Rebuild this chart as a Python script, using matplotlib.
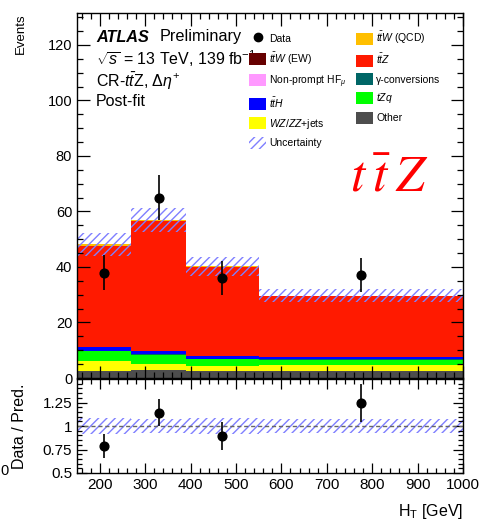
import numpy as np
import matplotlib
matplotlib.use("Agg")
import matplotlib.pyplot as plt
from matplotlib.patches import Patch
from matplotlib.lines import Line2D
from matplotlib.ticker import MultipleLocator, FixedLocator, FixedFormatter

plt.rcParams['font.family'] = ['Liberation Sans', 'DejaVu Sans']
plt.rcParams['mathtext.fontset'] = 'custom'
plt.rcParams['mathtext.rm'] = 'Liberation Sans'
plt.rcParams['mathtext.it'] = 'Liberation Sans:italic'
plt.rcParams['mathtext.bf'] = 'Liberation Sans:bold'
plt.rcParams['hatch.linewidth'] = 1.0

# ---------------- data ----------------
edges = [150, 270, 390, 550, 1000]
data_x = [210, 330, 470, 775]
data_y = [38, 65, 36, 37]
data_err = [6.2, 8.1, 6.0, 6.1]

# stack components (bottom -> top)
other = [2.6, 3.0, 2.5, 2.7]
wzzz = [3.4, 2.2, 1.9, 2.0]
tzq = [3.6, 3.2, 2.4, 1.9]
gconv = [0.2, 0.2, 0.2, 0.2]
tth = [1.2, 1.0, 0.8, 0.6]
nonprompt = [0.1, 0.1, 0.1, 0.05]
ttw_ew = [0.1, 0.1, 0.1, 0.05]
ttz = [36.2, 46.7, 32.0, 22.0]
ttw_qcd = [0.7, 0.5, 0.2, 0.2]
unc = [4.0, 4.3, 3.5, 2.2]

components = [
    ("Other", other, "#4d4d4d"),
    ("$WZ/ZZ$+jets", wzzz, "#ffff00"),
    ("$tZq$", tzq, "#00ff00"),
    ("\u03b3-conversions", gconv, "#006666"),
    ("$t\\bar{t}H$", tth, "#0000ff"),
    ("Non-prompt HF$_{\\mu}$", nonprompt, "#ff99ff"),
    ("$t\\bar{t}W$ (EW)", ttw_ew, "#660000"),
    ("$t\\bar{t}Z$", ttz, "#ff1a00"),
    ("$t\\bar{t}W$ (QCD)", ttw_qcd, "#ffbf00"),
]
unc_color = "#7f7fff"

# ---------------- figure ----------------
W, H = 480, 523
fig = plt.figure(figsize=(W / 100, H / 100), dpi=100)

def px_axes(l, t, r, b):
    return fig.add_axes([l / W, 1 - b / H, (r - l) / W, (b - t) / H])

ax = px_axes(77, 13, 463, 378)
axr = px_axes(77, 379, 463, 473)

edges_a = np.array(edges, dtype=float)
base = np.zeros(len(data_y))
for name, vals, col in components:
    top = base + np.array(vals)
    ax.stairs(top, edges_a, baseline=base, fill=True, color=col, lw=0)
    base = top
total = base
unc_a = np.array(unc)
ax.stairs(total + unc_a, edges_a, baseline=total - unc_a, fill=True,
          facecolor='none', edgecolor=unc_color, hatch='////', lw=0)

ax.errorbar(data_x, data_y, yerr=data_err, fmt='o', color='black',
            ms=6.3, elinewidth=1.2, capsize=0, zorder=5)

ax.set_xlim(150, 1000)
ax.set_ylim(0, 131.5)
ax.yaxis.set_major_locator(MultipleLocator(20))
ax.yaxis.set_minor_locator(MultipleLocator(5))
ax.xaxis.set_major_locator(MultipleLocator(100))
ax.xaxis.set_minor_locator(MultipleLocator(20))
ax.tick_params(axis='x', labelbottom=False)

# ratio panel
ratio = np.array(data_y) / total
ratio_err = np.array(data_err) / total
axr.stairs((total + unc_a) / total, edges_a, baseline=(total - unc_a) / total,
           fill=True, facecolor='none', edgecolor=unc_color, hatch='////', lw=0)
axr.axhline(1.0, color='#666666', ls=(0, (3, 2)), lw=1.0)
axr.errorbar(data_x, ratio, yerr=ratio_err, fmt='o', color='black',
             ms=6.3, elinewidth=1.2, capsize=0, zorder=5)
axr.set_xlim(150, 1000)
axr.set_ylim(0.5, 1.5)
axr.yaxis.set_major_locator(FixedLocator([0.5, 0.75, 1.0, 1.25]))
axr.yaxis.set_major_formatter(FixedFormatter(["0.5", "0.75", "1", "1.25"]))
axr.yaxis.set_minor_locator(MultipleLocator(0.05))
axr.xaxis.set_major_locator(MultipleLocator(100))
axr.xaxis.set_minor_locator(MultipleLocator(20))

for a, maj, mnr, ls in [(ax, 9, 4.5, 10.5), (axr, 7, 3.5, 11)]:
    a.tick_params(which='both', direction='in', top=True, right=True,
                  labelsize=ls, width=0.9)
    a.tick_params(which='major', length=maj)
    a.tick_params(which='minor', length=mnr)
    for s in a.spines.values():
        s.set_linewidth(1.0)

ax.set_ylabel("Events", fontsize=9.5, loc='top',
              family=['Liberation Sans Narrow', 'Liberation Sans', 'DejaVu Sans'])
ax.yaxis.set_label_coords(-0.1295, 1.0)
axr.set_ylabel("Data / Pred.", fontsize=11.5)
axr.yaxis.set_label_coords(-0.1295, 0.5)
axr.set_xlabel("H$_\\mathrm{T}$ [GeV]", fontsize=11.5, loc='right')
axr.xaxis.set_label_coords(1.0, -0.31)

# texts
fig.text(96 / W, 1 - 37 / H, "ATLAS", fontsize=11.7, fontweight='bold',
         fontstyle='italic', va='center', ha='left')
fig.text(160 / W, 1 - 37 / H, "Preliminary", fontsize=11.7, va='center', ha='left')
fig.text(96 / W, 1 - 59 / H, "$\\sqrt{s}$ = 13 TeV, 139 fb$^{-1}$", fontsize=11.5,
         va='center', ha='left')
fig.text(96 / W, 1 - 81 / H, "CR-$t\\bar{t}$Z, $\\Delta\\eta^{+}$", fontsize=11.5,
         va='center', ha='left')
fig.text(96 / W, 1 - 101 / H, "Post-fit", fontsize=11.5, va='center', ha='left')

fig.text(389 / W, 1 - 178 / H, "$t\\:\\bar{t}\\:Z$", fontsize=37, color='#ff0000',
         va='center', ha='center', math_fontfamily='stix')

fig.text(0.0, 1 - 471 / H, "0", fontsize=10.5, va='center', ha='left')

# legend
handles = [Line2D([], [], marker='o', color='black', ls='none', ms=6)]
labels = ["Data"]
leg_order_left = ["$t\\bar{t}W$ (EW)", "Non-prompt HF$_{\\mu}$", "$t\\bar{t}H$", "$WZ/ZZ$+jets"]
leg_order_right = ["$t\\bar{t}W$ (QCD)", "$t\\bar{t}Z$", "\u03b3-conversions", "$tZq$", "Other"]
cmap = {n: c for n, v, c in components}
for n in leg_order_left:
    handles.append(Patch(facecolor=cmap[n], edgecolor='none'))
    labels.append(n)
handles.append(Patch(facecolor='none', edgecolor=unc_color, hatch='////', lw=0))
labels.append("Uncertainty")
for n in leg_order_right:
    handles.append(Patch(facecolor=cmap[n], edgecolor='none'))
    labels.append(n)

fig.legend(handles, labels, ncol=2, loc='upper left',
           bbox_to_anchor=(249 / W, 1 - 30 / H), frameon=False,
           fontsize=7.5, handlelength=1.65, handleheight=1.4,
           labelspacing=0.6, columnspacing=0.9, handletextpad=0.3,
           borderpad=0, borderaxespad=0)

fig.savefig("out.png", dpi=100)
